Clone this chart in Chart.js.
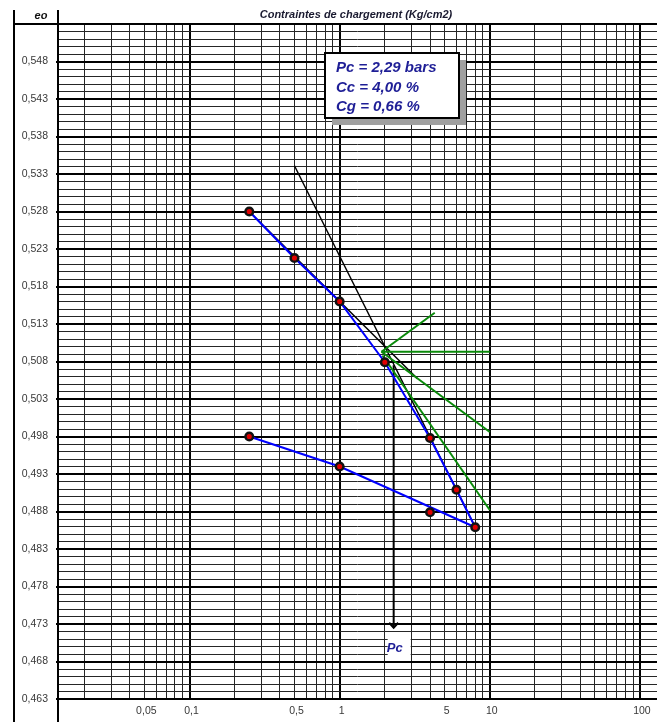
<!DOCTYPE html>
<html>
<head>
<meta charset="utf-8">
<script src="https://cdn.jsdelivr.net/npm/chart.js@4.4.1/dist/chart.umd.min.js"></script>
<style>
  html, body { margin: 0; padding: 0; background: #fff; }
  #wrap { width: 657px; height: 722px; }
</style>
</head>
<body>
<div id="wrap"><canvas id="oedo" width="657" height="722"></canvas></div>
<script>
// --- oedometer test, values
const stressLoad = [0.25, 0.5, 1, 2, 4, 6, 8];
const voidLoad = [0.528, 0.5218, 0.516, 0.5079, 0.4978, 0.4909, 0.4859];
const stressUnload = [4, 1, 0.25];
const voidUnload = [0.4879, 0.494, 0.498];
// blue unloading curve (runs just above the 4 bar point)
const unloadCurveStress = [8, 1, 0.25];
const unloadCurveVoid = [0.4859, 0.494, 0.498];

// --- Casagrande construction
const virginStress = [0.5, 8];
const virginVoid = [0.5341, 0.4859];
const recompStress = [0.25, 3.3];
const recompVoid = [0.528, 0.5057];
const pivotStress = 1.9;
const pivotVoid = 0.5093;
const rayEndStress = [4.3, 10, 10];
const rayEndVoid = [0.5145, 0.5093, 0.4986];
const tangentStress = [1.93, 10];
const tangentVoid = [0.5088, 0.4882];
const pcStress = 2.29;
const pcVoid = [0.5075, 0.4725];

// --- axes
const xMin = 0.0133, xMax = 130;
const yMin = 0.463, yMax = 0.553;
const xLabelValues = [0.05, 0.1, 0.5, 1, 5, 10, 100];
const yLabelValues = [0.463, 0.468, 0.473, 0.478, 0.483, 0.488, 0.493, 0.498, 0.503,
  0.508, 0.513, 0.518, 0.523, 0.528, 0.533, 0.538, 0.543, 0.548];
const infoLines = ['Pc = 2,29 bars', 'Cc = 4,00 %', 'Cg = 0,66 %'];
const titleText = 'Contraintes de chargement (Kg/cm2)';
const yTitle = 'eo';

const FONT = "Arial, 'Liberation Sans', sans-serif";
const NAVY = '#1e1e96';
const MINOR = '#262626';

function pts(xs, ys) { return xs.map((x, i) => ({ x, y: ys[i] })); }
function fmt(v) { return String(v).replace('.', ','); }
function isXLabel(v) { return xLabelValues.some(l => Math.abs(l - v) / l < 1e-6); }
function isYLabel(v) { return yLabelValues.some(l => Math.abs(l - v) < 1e-7); }
function isDecade(v) { return Math.abs(Math.log10(v) - Math.round(Math.log10(v))) < 1e-6; }

// grid values: 2..9 x 10^n and decades
const xGrid = [];
for (let e = -2; e <= 1; e++) {
  for (let m = 1; m <= 9; m++) {
    const v = Number((m * Math.pow(10, e)).toPrecision(3));
    if (v > xMin) xGrid.push(v);
  }
}
xGrid.push(100);
const yGrid = [];
for (let k = 463; k <= 553; k++) yGrid.push(k / 1000);

const lineDs = (data, color, width) => ({
  data, showLine: true, borderColor: color, borderWidth: width,
  pointRadius: 0, fill: false, tension: 0
});

// --- frame, header and annotations
const framePlugin = {
  id: 'frame',
  afterDraw(chart) {
    const ctx = chart.ctx;
    const a = chart.chartArea;
    const xs = chart.scales.x, ys = chart.scales.y;
    ctx.save();
    ctx.strokeStyle = '#000';
    ctx.lineWidth = 2;
    ctx.beginPath();
    ctx.moveTo(14, 10); ctx.lineTo(14, 722);
    ctx.moveTo(a.left, 10); ctx.lineTo(a.left, 722);
    ctx.moveTo(14, a.top); ctx.lineTo(657, a.top);
    ctx.stroke();

    ctx.fillStyle = '#111';
    ctx.textBaseline = 'middle';
    ctx.textAlign = 'center';
    ctx.font = 'italic bold 11px ' + FONT;
    ctx.fillText(yTitle, 41, 16);
    ctx.fillStyle = '#1a1a30';
    ctx.fillText(titleText, 356, 15);

    // arrow head at the foot of the Pc line
    const px = xs.getPixelForValue(pcStress);
    const py = ys.getPixelForValue(pcVoid[1]);
    ctx.lineWidth = 2;
    ctx.beginPath();
    ctx.moveTo(px - 4.5, py - 5); ctx.lineTo(px, py); ctx.lineTo(px + 4.5, py - 5);
    ctx.stroke();

    // Pc tag
    ctx.fillStyle = '#fff';
    ctx.fillRect(px - 6, py + 6, 23, 26);
    ctx.fillStyle = NAVY;
    ctx.font = 'italic bold 13px ' + FONT;
    ctx.fillText('Pc', px + 1, py + 21);

    // info box
    ctx.fillStyle = '#a0a0a0';
    ctx.fillRect(332, 60, 134, 65);
    ctx.fillStyle = '#fff';
    ctx.fillRect(325, 53, 134, 65);
    ctx.lineWidth = 2;
    ctx.strokeRect(325, 53, 134, 65);
    ctx.fillStyle = NAVY;
    ctx.textAlign = 'left';
    ctx.font = 'italic bold 15px ' + FONT;
    infoLines.forEach((t, i) => ctx.fillText(t, 336, 68 + i * 19.5));
    ctx.restore();
  }
};

const markers = pts(stressLoad, voidLoad).concat(pts(stressUnload, voidUnload));
const rays = rayEndStress.map((s, i) => lineDs(
  [{ x: pivotStress, y: pivotVoid }, { x: s, y: rayEndVoid[i] }], '#0a8a0a', 2));

new Chart(document.getElementById('oedo'), {
  type: 'scatter',
  data: {
    datasets: [
      {
        data: markers, showLine: false, pointRadius: 3.8, pointBorderWidth: 2.5,
        pointBackgroundColor: '#e00000', pointBorderColor: '#111'
      },
      lineDs(pts(stressLoad, voidLoad), '#0000ff', 2),
      lineDs(pts(unloadCurveStress, unloadCurveVoid), '#0000ff', 2),
      ...rays,
      lineDs(pts(tangentStress, tangentVoid), '#0a8a0a', 2),
      lineDs(pts(virginStress, virginVoid), '#000', 1.5),
      lineDs(pts(recompStress, recompVoid), '#000', 1.5),
      lineDs(pts([pcStress, pcStress], pcVoid), '#000', 2)
    ]
  },
  options: {
    responsive: false,
    animation: false,
    layout: { autoPadding: false, padding: { top: 24, left: 0, right: 0, bottom: 0 } },
    plugins: { legend: { display: false }, tooltip: { enabled: false } },
    scales: {
      x: {
        type: 'logarithmic', min: xMin, max: xMax,
        afterBuildTicks: s => { s.ticks = xGrid.map(v => ({ value: v })); },
        afterFit: s => { s.height = 23; s.paddingLeft = 0; s.paddingRight = 0; },
        border: { display: false },
        grid: {
          drawTicks: false,
          color: c => isDecade(c.tick.value) ? '#000' : MINOR,
          lineWidth: c => isDecade(c.tick.value) ? 2 : 1
        },
        ticks: {
          autoSkip: false, maxRotation: 0, minRotation: 0, padding: 6, labelOffset: 2,
          color: '#383838', font: { family: FONT, size: 10.5 },
          callback: v => isXLabel(v) ? fmt(v) : ''
        }
      },
      y: {
        min: yMin, max: yMax,
        afterBuildTicks: s => { s.ticks = yGrid.map(v => ({ value: v })); },
        afterFit: s => { s.width = 58; s.paddingTop = 0; s.paddingBottom = 0; },
        border: { display: false },
        grid: {
          tickLength: 2,
          color: c => (isYLabel(c.tick.value) || c.tick.value > 0.5525) ? '#000' : MINOR,
          lineWidth: c => (isYLabel(c.tick.value) || c.tick.value > 0.5525) ? 2 : 1,
          tickColor: c => isYLabel(c.tick.value) ? '#000' : 'rgba(0,0,0,0)'
        },
        ticks: {
          autoSkip: false, padding: 8,
          color: '#383838', font: { family: FONT, size: 10.5 },
          callback: v => isYLabel(v) ? fmt(Math.round(v * 1000) / 1000) : ''
        }
      }
    }
  },
  plugins: [framePlugin]
});
</script>
</body>
</html>
